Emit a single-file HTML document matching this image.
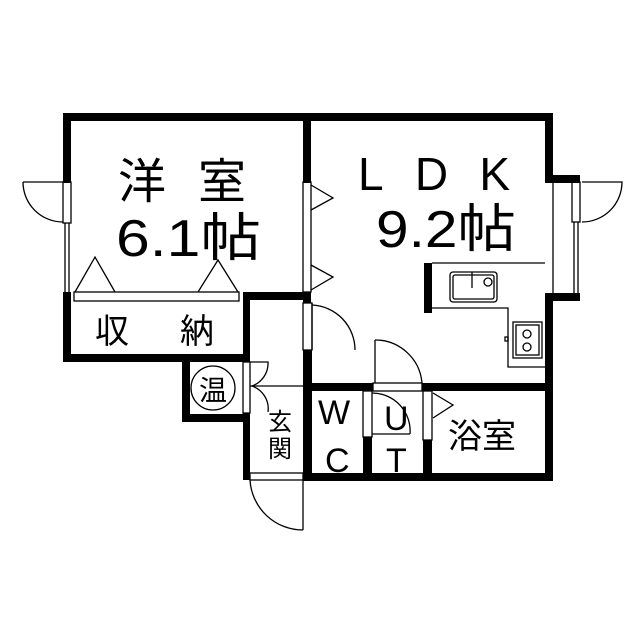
<!DOCTYPE html>
<html><head><meta charset="utf-8"><style>
html,body{margin:0;padding:0;background:#fff;width:639px;height:640px;overflow:hidden}
svg{display:block}
text{font-family:"Liberation Sans","Noto Sans CJK JP",sans-serif;fill:#000}
</style></head><body>
<svg width="639" height="640" viewBox="0 0 639 640" xmlns="http://www.w3.org/2000/svg">
<g fill="#000">
<!-- top wall -->
<rect x="63" y="113" width="490" height="8"/>
<!-- left wall -->
<rect x="63" y="113" width="8" height="70"/>
<rect x="63" y="292" width="8" height="70"/>
<!-- 収納 bottom -->
<rect x="63" y="354" width="187" height="8"/>
<!-- 収納 right -->
<rect x="243" y="292" width="7" height="70"/>
<!-- wall above hallway -->
<rect x="243" y="292" width="68" height="8"/>
<!-- 洋室/LDK wall -->
<rect x="303" y="113" width="8" height="70"/>
<rect x="303" y="292" width="8" height="11"/>
<rect x="303" y="350" width="9" height="130"/>
<!-- 温 box -->
<rect x="182" y="354" width="8" height="68"/>
<rect x="182" y="414" width="68" height="8"/>
<!-- 玄関 left wall -->
<rect x="243" y="413" width="7" height="67"/>
<!-- horizontal wall over WC etc -->
<rect x="303" y="383" width="70" height="8"/>
<rect x="422" y="383" width="131" height="8"/>
<!-- bottom wall -->
<rect x="303" y="473" width="250" height="8"/>
<!-- right wall -->
<rect x="545" y="113" width="8" height="70"/>
<rect x="545" y="175" width="35" height="8"/>
<rect x="545" y="293" width="35" height="8"/>
<rect x="545" y="293" width="8" height="188"/>
<!-- WC/UT walls -->
<rect x="363" y="437" width="9" height="40"/>
<rect x="423" y="440" width="9" height="40"/>
<!-- kitchen thick edge -->
<rect x="424" y="263" width="8" height="50"/>
</g>
<g fill="none" stroke="#000" stroke-width="1.3">
<!-- left door/window -->
<rect x="63" y="182" width="8" height="41"/>
<line x1="65" y1="223" x2="65" y2="292"/><line x1="69" y1="223" x2="69" y2="292"/>
<line x1="23" y1="182" x2="63" y2="182"/>
<path d="M23,182 A40,40 0 0 0 63,222"/>
<!-- closet bar -->
<rect x="74" y="292" width="165" height="9"/>
<path d="M75,292 L95,257 L115,292"/>
<path d="M198,292 L218,260 L238,292"/>
<!-- LDK folding -->
<rect x="303" y="182" width="8" height="110"/>
<path d="M311,185 L333,198 L311,210"/>
<path d="M311,265 L333,277 L311,290"/>
<!-- hallway door -->
<rect x="303" y="303" width="9" height="47"/>
<line x1="312" y1="303" x2="312" y2="350"/>
<path d="M312,305 A45,45 0 0 1 355,350"/>
<!-- 温 -->
<circle cx="213" cy="388" r="22"/>
<rect x="243" y="362" width="7" height="51"/>
<path d="M250,362 L268,362 A24,24 0 0 1 252,386"/>
<path d="M252,386 A24,24 0 0 1 268,412"/>
<line x1="250" y1="386" x2="303" y2="386"/>
<!-- entrance door -->
<rect x="250" y="473" width="53" height="7"/>
<line x1="303" y1="480" x2="303" y2="530"/>
<path d="M250,480 A53,53 0 0 0 303,530"/>
<!-- UT door -->
<line x1="375" y1="340" x2="375" y2="383"/>
<path d="M375,340 A47,47 0 0 1 422,383"/>
<rect x="373" y="383" width="49" height="8"/>
<rect x="363" y="391" width="9" height="46"/>
<rect x="423" y="391" width="9" height="49"/>
<path d="M372,393 A38,38 0 0 1 410,434"/>
<line x1="372" y1="434" x2="410" y2="434"/>
<path d="M433,393 L453,405 L433,418"/>
<!-- right door/window -->
<rect x="572" y="182" width="8" height="40"/>
<line x1="574" y1="222" x2="574" y2="293"/><line x1="578" y1="222" x2="578" y2="293"/>
<line x1="553" y1="182" x2="553" y2="293"/>
<path d="M582,182 L622,182 A40,40 0 0 1 582,222"/>
<!-- kitchen -->
<path d="M432,263 L545,263 M432,308 L508,308 L508,367 L545,367"/>
<rect x="450" y="272" width="47" height="30" rx="3"/>
<rect x="453" y="275" width="41" height="24" rx="2"/>
<line x1="472" y1="272" x2="472" y2="288"/>
<circle cx="488" cy="282" r="4"/>
<rect x="513" y="322" width="29" height="36"/>
<rect x="516" y="325" width="23" height="30"/>
<circle cx="527" cy="334" r="4"/><circle cx="527" cy="347" r="4"/>
<rect x="505" y="337" width="3" height="4"/>
</g>
<text x="118" y="198" font-size="48">洋</text>
<text x="198" y="198" font-size="48">室</text>
<text x="116" y="256" font-size="52" textLength="145" lengthAdjust="spacingAndGlyphs">6.1帖</text>
<text x="358" y="190" font-size="46" textLength="152" lengthAdjust="spacing">LDK</text>
<text x="376" y="247" font-size="52" textLength="140" lengthAdjust="spacingAndGlyphs">9.2帖</text>
<text x="95" y="343" font-size="34">収</text>
<text x="180" y="343" font-size="34">納</text>
<text x="199" y="400" font-size="28">温</text>
<text x="268" y="430" font-size="24">玄</text>
<text x="268" y="457" font-size="24">関</text>
<text x="318" y="424" font-size="34">W</text>
<text x="325" y="472" font-size="34">C</text>
<text x="384" y="430" font-size="34">U</text>
<text x="386" y="472" font-size="34">T</text>
<text x="448" y="448" font-size="34">浴室</text>
</svg>
</body></html>
